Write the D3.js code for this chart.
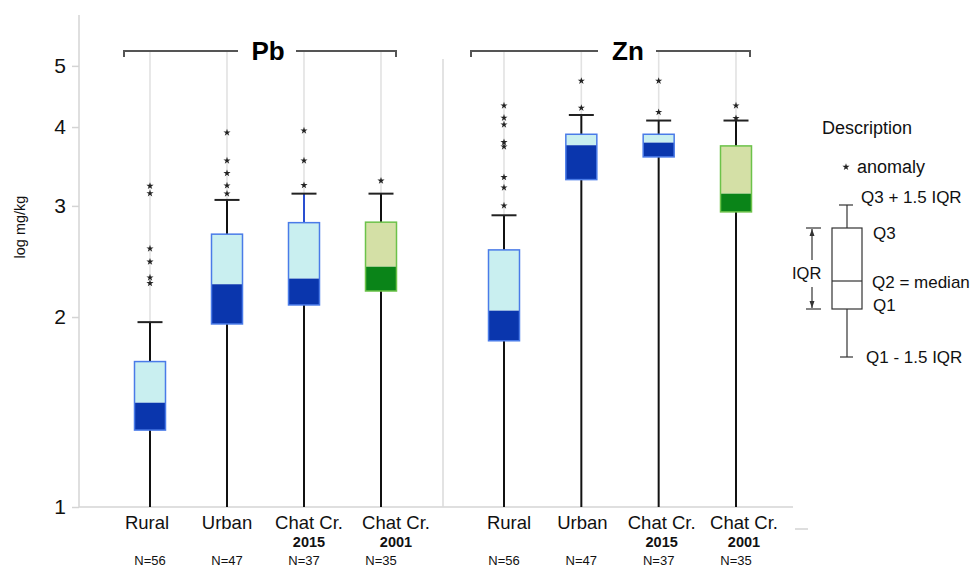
<!DOCTYPE html>
<html><head><meta charset="utf-8">
<script src="https://cdn.jsdelivr.net/npm/d3@7"></script>
<style>body{margin:0;background:#fff}svg{display:block}text{font-family:"Liberation Sans",Arial,sans-serif}</style>
</head><body><svg id="c" width="971" height="567"></svg>
<script>
// ---- data ----
const categories = ["Rural","Urban","Chat Cr.","Chat Cr."];
const subLabels = ["","","2015","2001"];
const nLabels = ["N=56","N=47","N=37","N=35"];
const palette = ["blue","blue","blue","green"];
const yTicks = [1,2,3,4,5];
// [whiskerLow, Q1, median, Q3, whiskerHigh]
const pbStats = [
  [1.0, 1.324, 1.463, 1.70, 1.963],
  [1.0, 1.95, 2.254, 2.706, 3.066],
  [1.0, 2.09, 2.301, 2.822, 3.137],
  [1.0, 2.199, 2.403, 2.827, 3.137]
];
const pbOutliers = [
  [3.226, 3.14, 2.567, 2.447, 2.309, 2.262],
  [3.92, 3.539, 3.38, 3.231, 3.137],
  [3.948, 3.539, 3.235],
  [3.288]
];
const znStats = [
  [1.0, 1.834, 2.047, 2.555, 2.899],
  [1.0, 3.302, 3.743, 3.896, 4.18],
  [1.0, 3.587, 3.779, 3.896, 4.096],
  [1.0, 2.935, 3.137, 3.734, 4.096]
];
const znOutliers = [
  [4.325, 4.136, 4.036, 3.784, 3.724, 3.331, 3.207, 3.003],
  [4.733, 4.289],
  [4.733, 4.223],
  [4.325, 4.13]
];

// ---- layout ----
const svg = d3.select("#c");
const y = d3.scaleLog().domain([1, 6.02]).range([507, 15]);
const axisX = 79, baseY = 507;
const colors = {
  blue: {light:"#c9eff0", dark:"#0a36ad", stroke:"#4a7be8"},
  green:{light:"#d4e0a6", dark:"#0a8418", stroke:"#6cc24a"}
};
const labelNudge = [[-3,0,5,15],[5,1,3,8]];

// y axis
svg.append("line").attr("x1",axisX).attr("x2",axisX).attr("y1",15).attr("y2",baseY)
  .attr("stroke","#d4d4d4").attr("stroke-width",1.5);
svg.append("line").attr("x1",axisX).attr("x2",793).attr("y1",baseY).attr("y2",baseY)
  .attr("stroke","#d4d4d4").attr("stroke-width",1.5);
svg.append("line").attr("x1",795).attr("x2",808).attr("y1",529).attr("y2",529)
  .attr("stroke","#c8c8c8").attr("stroke-width",1.2);
const ya = svg.append("g").attr("transform",`translate(${axisX},0)`)
  .call(d3.axisLeft(y).tickValues(yTicks).tickFormat(d3.format("d")).tickSize(7).tickPadding(6));
ya.select(".domain").remove();
ya.selectAll(".tick line").attr("stroke","#d4d4d4").attr("stroke-width",1.5);
ya.selectAll(".tick text").attr("font-size",21).attr("fill","#111")
  .attr("font-family","Liberation Sans, Arial, sans-serif");
svg.append("text").attr("transform","translate(25,227) rotate(-90)")
  .attr("text-anchor","middle").attr("font-size",14.5).attr("fill","#111").text("log mg/kg");

// panel divider
svg.append("line").attr("x1",443).attr("x2",443).attr("y1",59).attr("y2",baseY)
  .attr("stroke","#dadada").attr("stroke-width",1.5);

function panel(title, stats, outliers, range, bracket, titleX, nudges){
  const x = d3.scalePoint().domain(d3.range(categories.length)).range(range);
  const g = svg.append("g");
  const bw = 31, cw = 25;
  stats.forEach((s,i)=>{
    g.append("line").attr("x1",x(i)).attr("x2",x(i)).attr("y1",bracket.y).attr("y2",y(s[4]))
      .attr("stroke","#e2e2e2").attr("stroke-width",1.6);
  });
  g.append("path").attr("d",`M${bracket.x0},${bracket.y+6}V${bracket.y}H${titleX-30}`)
    .attr("fill","none").attr("stroke","#555").attr("stroke-width",2);
  g.append("path").attr("d",`M${titleX+28},${bracket.y}H${bracket.x1}V${bracket.y+6}`)
    .attr("fill","none").attr("stroke","#555").attr("stroke-width",2);
  g.append("text").attr("x",titleX).attr("y",bracket.y+9).attr("text-anchor","middle")
    .attr("font-size",26).attr("font-weight","bold").attr("fill","#000").text(title);
  stats.forEach((s,i)=>{
    const c = colors[palette[i]], cx = x(i);
    const upperCol = (title==="Pb" && i===2) ? "#2a4fd0" : "#111";
    g.append("line").attr("x1",cx).attr("x2",cx).attr("y1",y(s[0])).attr("y2",y(s[1]))
      .attr("stroke","#111").attr("stroke-width",2);
    g.append("line").attr("x1",cx).attr("x2",cx).attr("y1",y(s[3])).attr("y2",y(s[4]))
      .attr("stroke",upperCol).attr("stroke-width",2);
    g.append("line").attr("x1",cx-cw/2).attr("x2",cx+cw/2).attr("y1",y(s[4])).attr("y2",y(s[4]))
      .attr("stroke","#222").attr("stroke-width",2);
    g.append("rect").attr("x",cx-bw/2).attr("width",bw).attr("y",y(s[3])).attr("height",y(s[2])-y(s[3]))
      .attr("fill",c.light);
    g.append("rect").attr("x",cx-bw/2).attr("width",bw).attr("y",y(s[2])).attr("height",y(s[1])-y(s[2]))
      .attr("fill",c.dark);
    g.append("rect").attr("x",cx-bw/2).attr("width",bw).attr("y",y(s[3])).attr("height",y(s[1])-y(s[3]))
      .attr("fill","none").attr("stroke",c.stroke).attr("stroke-width",1.5);
    outliers[i].forEach(v=>{
      g.append("path").attr("d",d3.symbol(d3.symbolStar,16)())
        .attr("transform",`translate(${cx},${y(v)})`).attr("fill","#222");
    });
    g.append("text").attr("x",cx+nudges[i]).attr("y",529).attr("text-anchor","middle")
      .attr("font-size",18.5).attr("fill","#111").text(categories[i]);
    if(subLabels[i]) g.append("text").attr("x",cx+nudges[i]).attr("y",547).attr("text-anchor","middle")
      .attr("font-size",14.5).attr("font-weight","bold").attr("fill","#111").text(subLabels[i]);
    g.append("text").attr("x",cx).attr("y",565).attr("text-anchor","middle")
      .attr("font-size",13).attr("fill","#111").text(nLabels[i]);
  });
}
panel("Pb", pbStats, pbOutliers, [150,381], {x0:124,x1:396,y:51}, 268, labelNudge[0]);
panel("Zn", znStats, znOutliers, [504,736], {x0:471,x1:750,y:51}, 628, labelNudge[1]);

// legend
const L = svg.append("g").attr("fill","#111");
L.append("text").attr("x",822).attr("y",134).attr("font-size",18).text("Description");
L.append("path").attr("d",d3.symbol(d3.symbolStar,16)()).attr("transform","translate(846,167)").attr("fill","#222");
L.append("text").attr("x",857).attr("y",173).attr("font-size",18).text("anomaly");
const lg = L.append("g").attr("stroke","#333").attr("stroke-width",1.2).attr("fill","none");
lg.append("rect").attr("x",832).attr("y",228).attr("width",30).attr("height",81);
lg.append("line").attr("x1",832).attr("x2",862).attr("y1",281).attr("y2",281);
lg.append("line").attr("x1",847).attr("x2",847).attr("y1",205).attr("y2",228);
lg.append("line").attr("x1",839).attr("x2",853).attr("y1",205).attr("y2",205);
lg.append("line").attr("x1",847).attr("x2",847).attr("y1",309).attr("y2",357);
lg.append("line").attr("x1",840).attr("x2",853).attr("y1",357).attr("y2",357);
lg.append("line").attr("x1",806).attr("x2",821).attr("y1",228).attr("y2",228);
lg.append("line").attr("x1",806).attr("x2",821).attr("y1",309).attr("y2",309);
lg.append("line").attr("x1",812).attr("x2",812).attr("y1",229).attr("y2",260);
lg.append("line").attr("x1",812).attr("x2",812).attr("y1",287).attr("y2",308);
L.append("path").attr("d","M812,229l-2.5,7h5z").attr("fill","#333");
L.append("path").attr("d","M812,308l-2.5,-7h5z").attr("fill","#333");
L.append("text").attr("x",792).attr("y",279).attr("font-size",16.5).text("IQR");
L.append("text").attr("x",861).attr("y",203).attr("font-size",17).text("Q3 + 1.5 IQR");
L.append("text").attr("x",873).attr("y",239).attr("font-size",17).text("Q3");
L.append("text").attr("x",872).attr("y",288).attr("font-size",17).text("Q2 = median");
L.append("text").attr("x",873).attr("y",311).attr("font-size",17).text("Q1");
L.append("text").attr("x",866).attr("y",363).attr("font-size",17).text("Q1 - 1.5 IQR");
</script></body></html>
